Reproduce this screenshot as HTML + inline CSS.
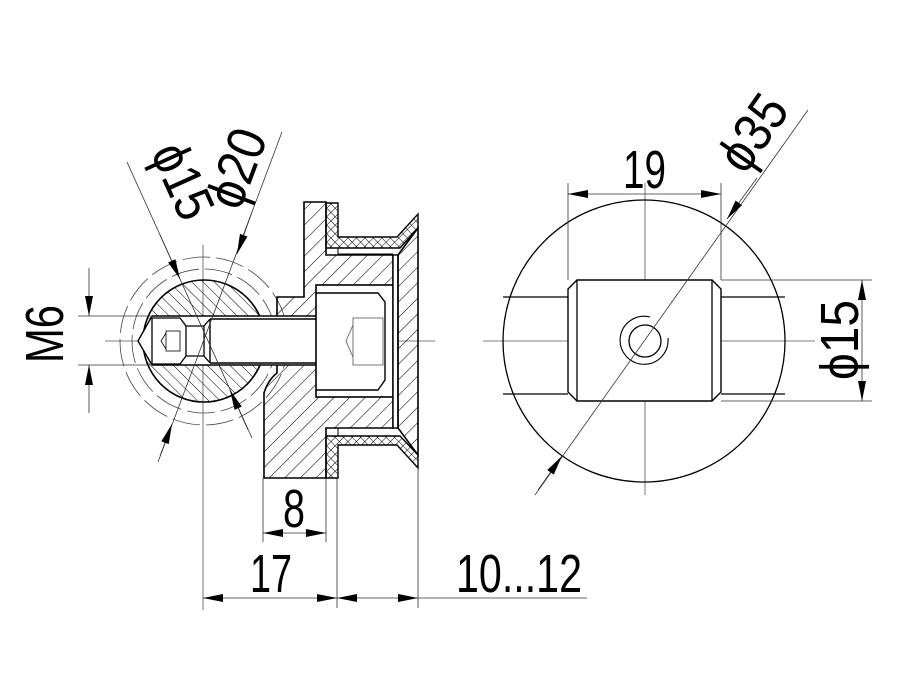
<!DOCTYPE html>
<html><head><meta charset="utf-8"><style>html,body{margin:0;padding:0;background:#fff}svg{display:block}text{font-family:"Liberation Sans",sans-serif;font-size:54px;fill:#000}</style></head>
<body>
<svg width="900" height="700" viewBox="0 0 900 700" xmlns="http://www.w3.org/2000/svg">
<defs>
<pattern id="h" patternUnits="userSpaceOnUse" width="11" height="11" patternTransform="rotate(45)"><line x1="0" y1="0" x2="0" y2="11" stroke="#000" stroke-width="1.1"/></pattern>
<pattern id="h2" patternUnits="userSpaceOnUse" width="8" height="8" patternTransform="rotate(-45)"><line x1="0" y1="0" x2="0" y2="8" stroke="#000" stroke-width="1"/></pattern>
<pattern id="x" patternUnits="userSpaceOnUse" width="6" height="6" patternTransform="rotate(45)"><path d="M0 0V6M0 0H6" stroke="#000" stroke-width="1"/></pattern>
<marker id="a" viewBox="0 0 20 8" refX="20" refY="4" markerWidth="20" markerHeight="8" markerUnits="userSpaceOnUse" orient="auto-start-reverse"><path d="M0 0L20 4L0 8z" fill="#000"/></marker>
</defs>
<g fill="none" stroke="#000">
<g stroke="#555" stroke-width="0.8">
<line x1="105" y1="341" x2="435" y2="341"/>
<line x1="203" y1="245" x2="203" y2="610"/>
<line x1="483" y1="341" x2="815" y2="341"/>
<line x1="645" y1="183" x2="645" y2="495"/>
</g>
<g stroke="#444" stroke-width="0.8" stroke-dasharray="28 6">
<circle cx="204" cy="341" r="72"/>
<circle cx="204" cy="341" r="84"/>
</g>
<circle cx="204" cy="341" r="61" fill="url(#h2)" stroke-width="1.6"/>
<path d="M304 202H326V255H393V428H326V478H264V393Q268 380 277 373V297H304Z" fill="url(#h)" stroke-width="1.6"/>
<rect x="150" y="316" width="166" height="49" fill="#fff" stroke="none"/>
<path d="M152 316L138 341L152 365" fill="#fff" stroke-width="1.4"/>
<line x1="152" y1="316" x2="316" y2="316" stroke-width="1.4"/>
<line x1="152" y1="365" x2="316" y2="365" stroke-width="1.4"/>
<rect x="316" y="285" width="77" height="112" fill="#fff" stroke-width="1.6"/>
<path d="M152 318H180L186 326V356L180 364H152" stroke-width="1.3"/>
<line x1="152" y1="318" x2="152" y2="364" stroke-width="1.3"/>
<path d="M210 319L204 326V356L210 363M186 326H204M186 356H204" stroke-width="1.3"/>
<rect x="166" y="331" width="14" height="20" stroke-width="0.8"/>
<path d="M166 333L161 341L166 349" stroke-width="0.8"/>
<line x1="210" y1="319" x2="316" y2="319" stroke-width="1.4"/>
<line x1="210" y1="363" x2="316" y2="363" stroke-width="1.4"/>
<line x1="210" y1="319" x2="210" y2="363" stroke-width="1.4"/>
<path d="M316 293H378L385 302V380L378 390H316" stroke-width="1.4"/>
<rect x="353" y="318" width="30" height="47" stroke="#555" stroke-width="0.8"/>
<path d="M353 325L346 341L353 357" stroke="#555" stroke-width="0.8"/>
<rect x="393" y="255" width="5" height="173" fill="#fff" stroke-width="1.4"/>
<path d="M398 255L418 228V455L398 428Z" fill="url(#h)" stroke-width="1.6"/>
<path d="M326 203H338V237H397L418 214V228L400 248H326Z" fill="url(#x)" stroke-width="1.4"/>
<path d="M326 478H338V445H397L418 468V455L400 436H326Z" fill="url(#x)" stroke-width="1.4"/>
<path d="M338 248V254H393M338 436V428" stroke-width="1"/>
<circle cx="644" cy="341" r="141" stroke-width="1.3"/>
<path d="M503 297H568M503 394H568M721 297H785M721 394H785" stroke-width="1.3"/>
<path d="M577 280H712L721 289V392L712 401H577L568 392V289Z" fill="#fff" stroke-width="1.4"/>
<path d="M577 280V401M712 280V401" stroke-width="1.3"/>
<circle cx="645" cy="341" r="16" stroke-width="1.3"/>
<path d="M668 338A24 24 0 1 1 650 317" stroke-width="1.1"/>
<g stroke="#333" stroke-width="0.8">
<line x1="568" y1="280" x2="568" y2="183"/><line x1="721" y1="280" x2="721" y2="183"/>
<line x1="568" y1="194" x2="721" y2="194" marker-start="url(#a)" marker-end="url(#a)"/>
<line x1="721" y1="280" x2="872" y2="280"/><line x1="721" y1="401" x2="872" y2="401"/>
<line x1="862" y1="280" x2="862" y2="401" marker-start="url(#a)" marker-end="url(#a)"/>
<line x1="808" y1="110" x2="535" y2="495"/>
<path d="M757 178L727 219" marker-end="url(#a)"/>
<path d="M538 490L562 456" marker-end="url(#a)"/>
<line x1="78" y1="316" x2="152" y2="316"/><line x1="78" y1="365" x2="152" y2="365"/>
<line x1="89" y1="268" x2="89" y2="316" marker-end="url(#a)"/>
<line x1="89" y1="413" x2="89" y2="365" marker-end="url(#a)"/>
<line x1="127" y1="162" x2="252" y2="438"/>
<path d="M160 235L180 279" marker-end="url(#a)"/>
<path d="M248 430L230 390" marker-end="url(#a)"/>
<line x1="282" y1="132" x2="158" y2="462"/>
<path d="M252 212L237 254" marker-end="url(#a)"/>
<path d="M160 456L172 424" marker-end="url(#a)"/>
<line x1="263" y1="478" x2="263" y2="542"/><line x1="326" y1="478" x2="326" y2="542"/>
<line x1="263" y1="533" x2="326" y2="533" marker-start="url(#a)" marker-end="url(#a)"/>
<line x1="337" y1="478" x2="337" y2="608"/><line x1="418" y1="468" x2="418" y2="608"/>
<line x1="203" y1="598" x2="337" y2="598" marker-start="url(#a)" marker-end="url(#a)"/>
<line x1="337" y1="598" x2="418" y2="598" marker-start="url(#a)" marker-end="url(#a)"/>
<line x1="418" y1="598" x2="587" y2="598"/>
</g>
</g>
<text x="623" y="188" textLength="43" lengthAdjust="spacingAndGlyphs">19</text>
<text x="283" y="527" textLength="22" lengthAdjust="spacingAndGlyphs">8</text>
<text x="250" y="592" textLength="42" lengthAdjust="spacingAndGlyphs">17</text>
<text x="456" y="592" textLength="126" lengthAdjust="spacingAndGlyphs">10...12</text>
<text transform="translate(63 363) rotate(-90)" x="0" y="0" textLength="58" lengthAdjust="spacingAndGlyphs">M6</text>
<text transform="translate(858 380) rotate(-90)" x="0" y="0" textLength="80" lengthAdjust="spacingAndGlyphs">ϕ15</text>
<text transform="translate(745 176) rotate(-55)" x="0" y="0" textLength="80" lengthAdjust="spacingAndGlyphs">ϕ35</text>
<text transform="translate(150 153) rotate(65.6)" x="0" y="0" textLength="78" lengthAdjust="spacingAndGlyphs">ϕ15</text>
<text transform="translate(240 212) rotate(-69.4)" x="0" y="0" textLength="80" lengthAdjust="spacingAndGlyphs">ϕ20</text>
</svg>
</body></html>
